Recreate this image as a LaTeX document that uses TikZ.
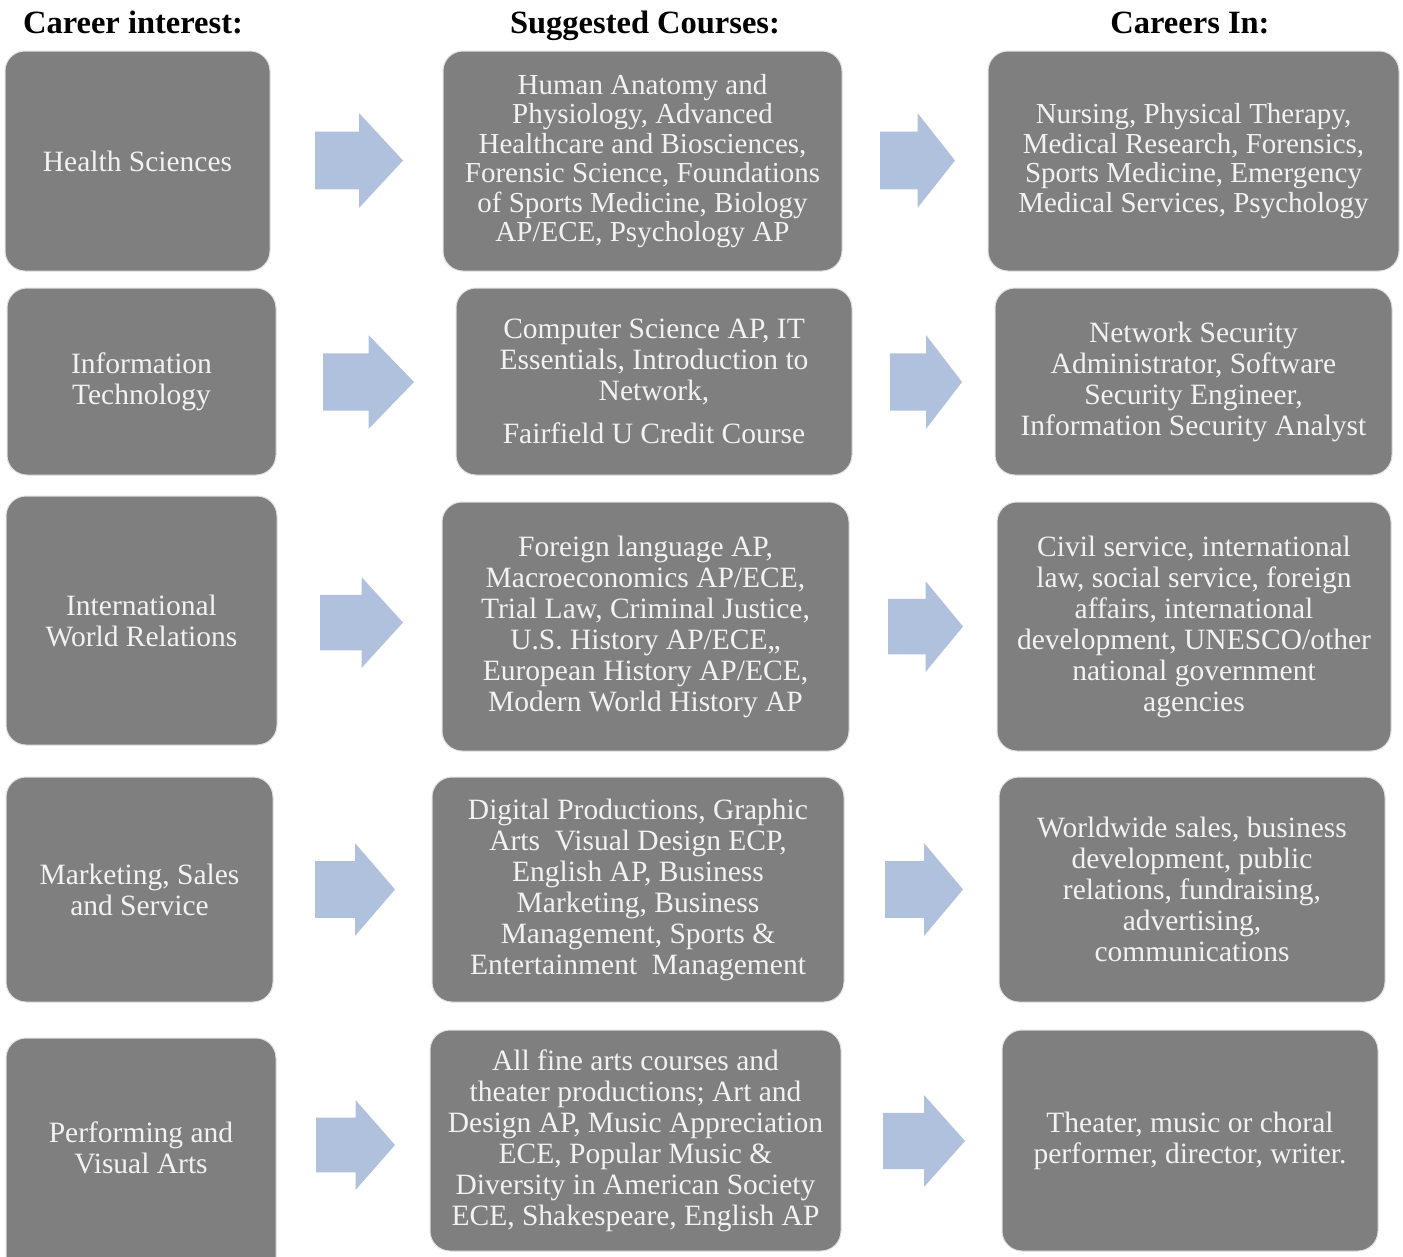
\documentclass[tikz,border=0pt]{standalone}
\usepackage{fontspec}
\setmainfont{Liberation Serif}
\definecolor{boxgray}{HTML}{7F7F7F}
\definecolor{boxtext}{HTML}{F2F2F2}
\definecolor{arrowc}{HTML}{B0C1DD}
\newcommand{\blockarr}[4]{%
  \pgfmathsetmacro\xm{#1+0.5*(#2-#1)}%
  \pgfmathsetmacro\bh{0.61*#4}%
  \fill[arrowc] (#1,#3-\bh) -- (\xm,#3-\bh) -- (\xm,#3-#4) -- (#2,#3) -- (\xm,#3+#4) -- (\xm,#3+\bh) -- (#1,#3+\bh) -- cycle;}
\tikzset{
  cbox/.style={rectangle, rounded corners=20pt, fill=boxgray, draw=white!88!black, line width=1pt,
    text=boxtext, align=center, inner sep=0pt, font=\fontsize{29.5}{31}\selectfont},
  tight/.style={font=\fontsize{29}{29.5}\selectfont},
  header/.style={font=\fontsize{32.5}{36}\selectfont\bfseries, text=black, inner sep=0pt, anchor=base}
}
\begin{document}
\begin{tikzpicture}[x=1pt,y=-1pt]
\useasboundingbox (0,0) rectangle (1403,1256);
\fill[white] (0,0) rectangle (1403,1256);
% headers
\node[header] (h1) at (133,33) {Career interest:};
\node[header] (h2) at (645,33) {Suggested Courses:};
\node[header] (h3) at (1190,33) {Careers In:};
% row 1
\node[cbox, minimum width=265pt, minimum height=220pt] (l1) at (137.5,161) {Health Sciences};
\node[cbox, tight, minimum width=399pt, minimum height=220pt] (m1) at (642.5,161) {Human Anatomy and\\Physiology, Advanced\\Healthcare and Biosciences,\\Forensic Science, Foundations\\of Sports Medicine, Biology\\AP/ECE, Psychology AP};
\node[cbox, tight, minimum width=411pt, minimum height=220pt] (r1) at (1193.5,161) {Nursing, Physical Therapy,\\Medical Research, Forensics,\\Sports Medicine, Emergency\\Medical Services, Psychology};
\blockarr{315}{403}{160.5}{47.5}
\blockarr{880}{955}{160.5}{47.5}
% row 2
\node[cbox, minimum width=269pt, minimum height=187pt] (l2) at (141.5,381.5) {Information\\Technology};
\node[cbox, minimum width=396pt, minimum height=187pt] (m2) at (654,381.5) {Computer Science AP, IT\\Essentials, Introduction to\\Network,\\[12pt]Fairfield U Credit Course};
\node[cbox, minimum width=397pt, minimum height=187pt] (r2) at (1193.5,381.5) {Network Security\\Administrator, Software\\Security Engineer,\\Information Security Analyst};
\blockarr{323}{414}{382}{47}
\blockarr{890}{962}{382}{47}
% row 3
\node[cbox, minimum width=271pt, minimum height=249pt] (l3) at (141.5,620.5) {International\\World Relations};
\node[cbox, minimum width=407pt, minimum height=249pt] (m3) at (645.5,626.5) {Foreign language AP,\\Macroeconomics AP/ECE,\\Trial Law, Criminal Justice,\\U.S. History AP/ECE,,\\European History AP/ECE,\\Modern World History AP};
\node[cbox, minimum width=394pt, minimum height=249pt] (r3) at (1194,626.5) {Civil service, international\\law, social service, foreign\\affairs, international\\development, UNESCO/other\\national government\\agencies};
\blockarr{320}{403}{622.5}{45.5}
\blockarr{888}{963}{626.5}{45.5}
% row 4
\node[cbox, minimum width=267pt, minimum height=225pt] (l4) at (139.5,889.5) {Marketing, Sales\\and Service};
\node[cbox, minimum width=412pt, minimum height=225pt] (m4) at (638,889.5) {Digital Productions, Graphic\\Arts~ Visual Design ECP,\\English AP, Business\\Marketing, Business\\Management, Sports \&\\Entertainment~ Management};
\node[cbox, minimum width=386pt, minimum height=225pt] (r4) at (1192,889.5) {Worldwide sales, business\\development, public\\relations, fundraising,\\advertising,\\communications};
\blockarr{315}{395}{889.5}{46.5}
\blockarr{885}{963}{889.5}{46.5}
% row 5
\node[cbox, minimum width=270pt, minimum height=244pt] (l5) at (141,1160) {};
\node[text=boxtext, align=center, inner sep=0pt, font=\fontsize{29.5}{31}\selectfont] (l5t) at (141,1148) {Performing and\\Visual Arts};
\node[cbox, minimum width=411pt, minimum height=221pt] (m5) at (635.5,1140.5) {All fine arts courses and\\theater productions; Art and\\Design AP, Music Appreciation\\ECE, Popular Music \&\\Diversity in American Society\\ECE, Shakespeare, English AP};
\node[cbox, minimum width=376pt, minimum height=221pt] (r5) at (1190,1140.5) {Theater, music or choral\\performer, director, writer.};
\blockarr{316}{395}{1145}{45}
\blockarr{883}{965}{1141}{46}
\end{tikzpicture}
\end{document}
